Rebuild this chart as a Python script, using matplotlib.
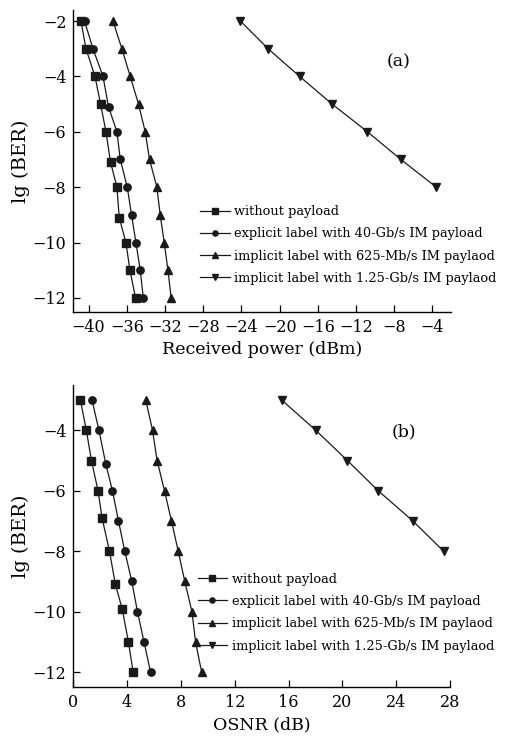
import matplotlib
matplotlib.use("Agg")
import matplotlib.pyplot as plt

plt.rcParams['font.family'] = ['DejaVu Serif']
plt.rcParams['mathtext.fontset'] = 'dejavuserif'

labels = ["without payload",
          "explicit label with 40-Gb/s IM payload",
          "implicit label with 625-Mb/s IM paylaod",
          "implicit label with 1.25-Gb/s IM paylaod"]
markers = ["s", "o", "^", "v"]

# Panel (a): received power (dBm) vs lg(BER)
a_sq_x = [-40.8, -40.27, -39.33, -38.74, -38.18, -37.70, -37.03, -36.79, -36.09, -35.67, -35.08]
a_sq_y = [-2, -3, -4, -5, -6, -7.1, -8, -9.1, -10, -11, -12]
a_ci_x = [-40.42, -39.54, -38.49, -37.91, -37.03, -36.68, -35.95, -35.50, -35.04, -34.59, -34.27]
a_ci_y = [-2, -3, -4, -5.1, -6, -7, -8, -9, -10, -11, -12]
a_tu_x = [-37.45, -36.51, -35.64, -34.77, -34.07, -33.62, -32.85, -32.50, -32.08, -31.69, -31.35]
a_tu_y = [-2, -3, -4, -5, -6, -7, -8, -9, -10, -11, -12]
a_td_x = [-24.1, -21.2, -17.9, -14.5, -10.8, -7.3, -3.6]
a_td_y = [-2, -3, -4, -5, -6, -7, -8]

# Panel (b): OSNR (dB) vs lg(BER)
b_sq_x = [0.53, 0.97, 1.35, 1.84, 2.14, 2.69, 3.13, 3.63, 4.10, 4.45]
b_sq_y = [-3, -4, -5, -6, -6.9, -8, -9.1, -9.9, -11, -12]
b_ci_x = [1.39, 1.91, 2.41, 2.91, 3.36, 3.83, 4.35, 4.77, 5.26, 5.74]
b_ci_y = [-3, -4, -5.1, -6, -7, -8, -9, -10, -11, -12]
b_tu_x = [5.39, 5.89, 6.23, 6.78, 7.30, 7.80, 8.29, 8.82, 9.09, 9.54]
b_tu_y = [-3, -4, -5, -6, -7, -8, -9, -10, -11, -12]
b_td_x = [15.5, 18.03, 20.38, 22.67, 25.25, 27.53]
b_td_y = [-3, -4, -5, -6, -7, -8]

a_xticks = [-40, -36, -32, -28, -24, -20, -16, -12, -8, -4]
a_yticks = [-2, -4, -6, -8, -10, -12]
b_xticks = [0, 4, 8, 12, 16, 20, 24, 28]
b_yticks = [-4, -6, -8, -10, -12]

fig = plt.figure(figsize=(5.09, 7.45), dpi=100)
ax1 = fig.add_axes([0.144, 0.5816, 0.743, 0.405])
ax2 = fig.add_axes([0.144, 0.0775, 0.740, 0.4057])

def style(ax):
    for s in ["top", "right"]:
        ax.spines[s].set_visible(False)
    for s in ["left", "bottom"]:
        ax.spines[s].set_linewidth(1.0)
    ax.tick_params(direction="in", length=5, width=0.9, labelsize=11.5, pad=5)

series_a = [(a_sq_x, a_sq_y), (a_ci_x, a_ci_y), (a_tu_x, a_tu_y), (a_td_x, a_td_y)]
series_b = [(b_sq_x, b_sq_y), (b_ci_x, b_ci_y), (b_tu_x, b_tu_y), (b_td_x, b_td_y)]

for ax, series in [(ax1, series_a), (ax2, series_b)]:
    for (x, y), m, lab in zip(series, markers, labels):
        ax.plot(x, y, color="#1a1a1a", lw=0.9, marker=m, markersize=5.3, label=lab)
    style(ax)

ax1.set_xlim(-41.6, -2)
ax1.set_ylim(-12.5, -1.6)
ax1.set_xticks(a_xticks)
ax1.set_xticklabels([str(t).replace("-", "\u2212") for t in a_xticks])
ax1.set_yticks(a_yticks)
ax1.set_yticklabels([str(t).replace("-", "\u2212") for t in a_yticks])
ax1.set_xlabel("Received power (dBm)", fontsize=12.5, labelpad=4)
ax1.set_ylabel("lg (BER)", fontsize=14, labelpad=2)
ax1.text(0.861, 0.828, "(a)", transform=ax1.transAxes, fontsize=12.5, ha="center", va="center")

ax2.set_xlim(0, 28)
ax2.set_ylim(-12.5, -2.5)
ax2.set_xticks(b_xticks)
ax2.set_xticklabels([str(t) for t in b_xticks])
ax2.set_yticks(b_yticks)
ax2.set_yticklabels([str(t).replace("-", "\u2212") for t in b_yticks])
ax2.set_xlabel("OSNR (dB)", fontsize=12.5, labelpad=4)
ax2.set_ylabel("lg (BER)", fontsize=14, labelpad=2)
ax2.text(0.878, 0.845, "(b)", transform=ax2.transAxes, fontsize=12.5, ha="center", va="center")

for ax, anchor in [(ax1, (0.335, 0.221)), (ax2, (0.330, 0.247))]:
    ax.legend(loc="center left", bbox_to_anchor=anchor, frameon=False, fontsize=9.3,
              handlelength=2.3, handletextpad=0.35, borderpad=0, borderaxespad=0,
              labelspacing=0.72, markerscale=0.7)

fig.savefig("out.png", dpi=100)
